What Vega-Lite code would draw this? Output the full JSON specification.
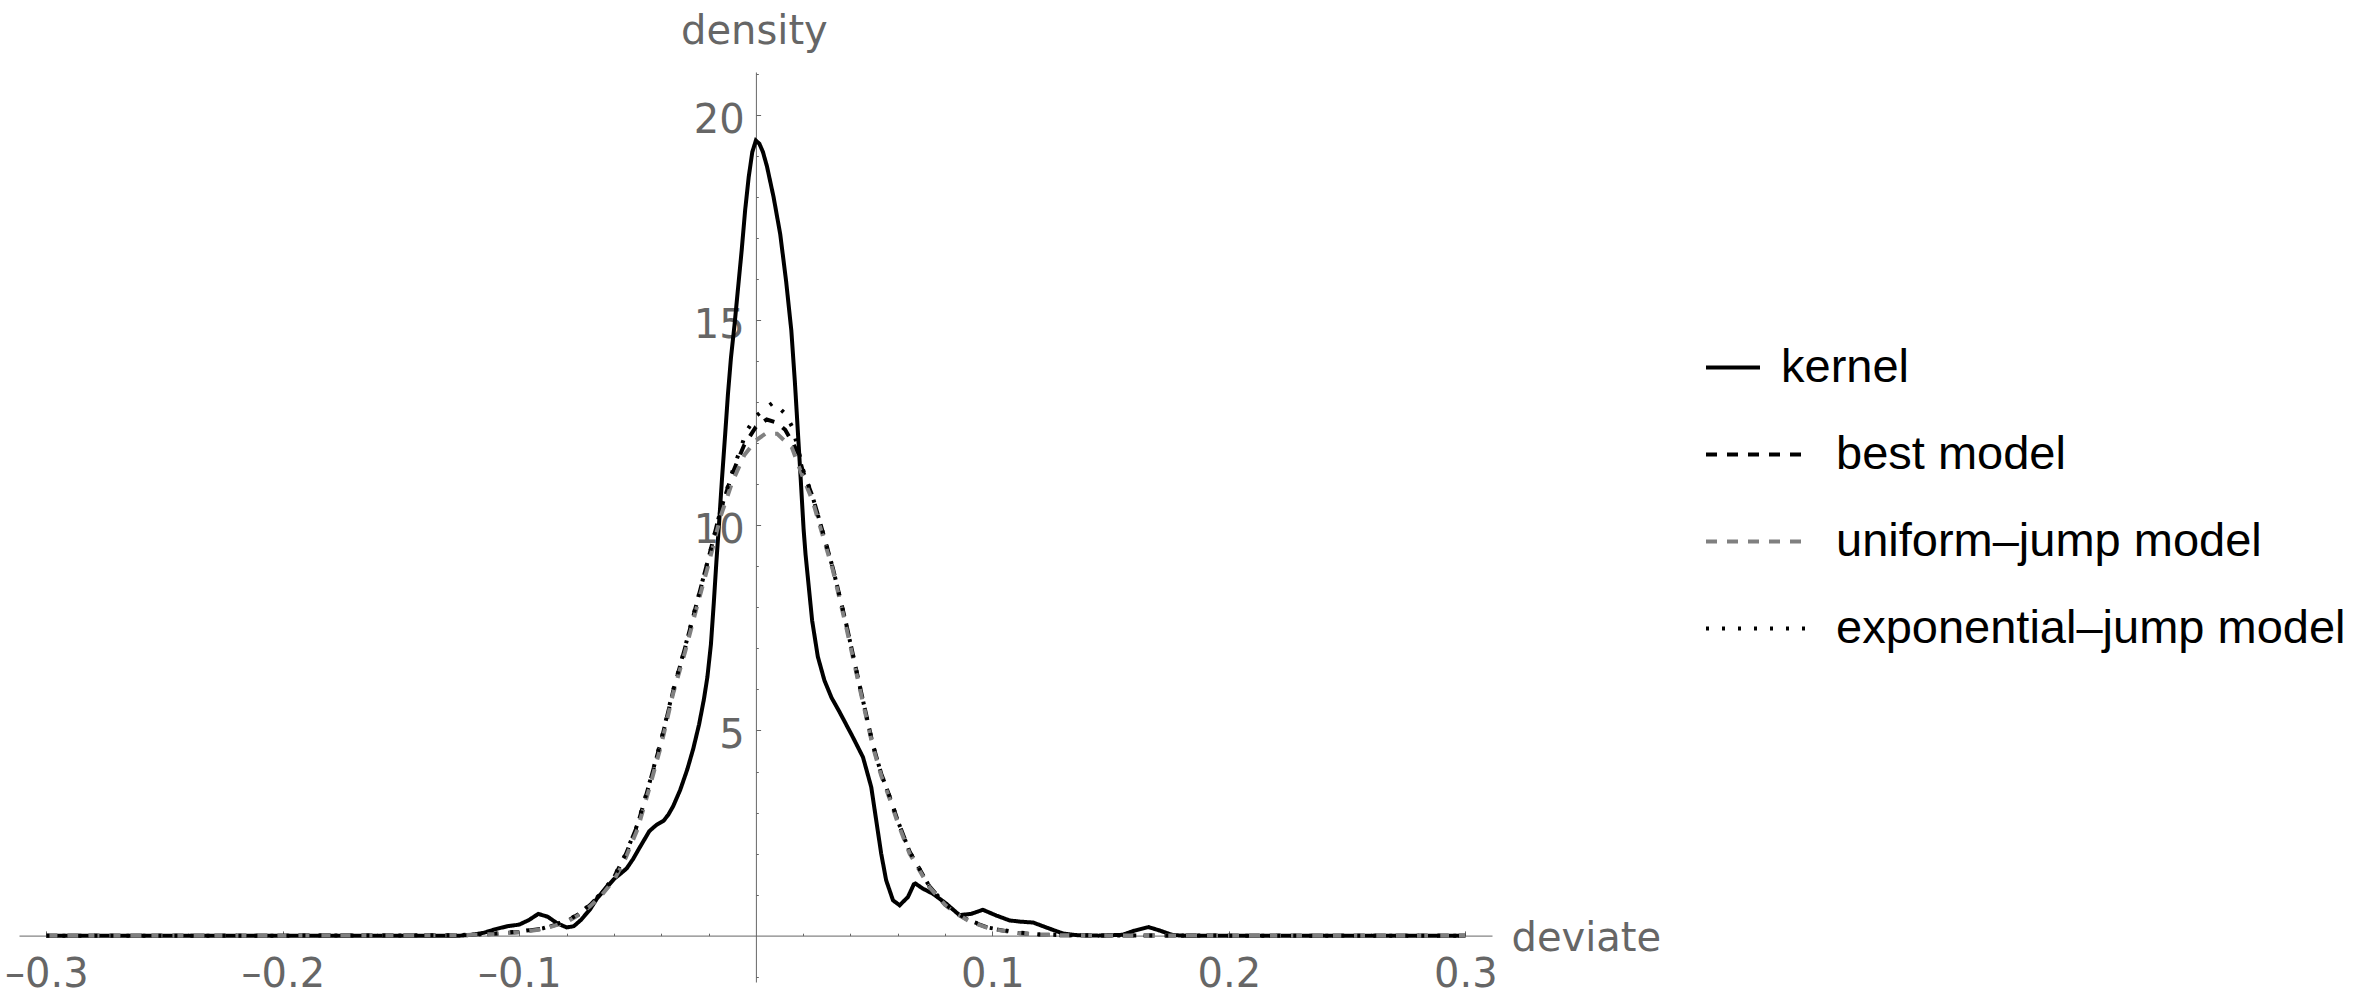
{
 "$schema": "https://vega.github.io/schema/vega-lite/v6.json",
 "width": 1473,
 "height": 910,
 "autosize": {"type": "none"},
 "padding": {"left": 19, "top": 72, "right": 865, "bottom": 15},
 "background": "white",
 "config": {"view": {"stroke": null}},
 "data": {"values": [
  {"deviate": -0.3, "density": 0, "series": "kernel"},
  {"deviate": -0.2, "density": 0, "series": "kernel"},
  {"deviate": -0.125, "density": 0, "series": "kernel"},
  {"deviate": -0.12, "density": 0.02, "series": "kernel"},
  {"deviate": -0.115, "density": 0.07, "series": "kernel"},
  {"deviate": -0.11, "density": 0.16, "series": "kernel"},
  {"deviate": -0.105, "density": 0.23, "series": "kernel"},
  {"deviate": -0.1, "density": 0.27, "series": "kernel"},
  {"deviate": -0.096, "density": 0.38, "series": "kernel"},
  {"deviate": -0.092, "density": 0.53, "series": "kernel"},
  {"deviate": -0.088, "density": 0.46, "series": "kernel"},
  {"deviate": -0.084, "density": 0.3, "series": "kernel"},
  {"deviate": -0.08, "density": 0.2, "series": "kernel"},
  {"deviate": -0.077, "density": 0.23, "series": "kernel"},
  {"deviate": -0.074, "density": 0.38, "series": "kernel"},
  {"deviate": -0.07, "density": 0.65, "series": "kernel"},
  {"deviate": -0.067, "density": 0.92, "series": "kernel"},
  {"deviate": -0.063, "density": 1.18, "series": "kernel"},
  {"deviate": -0.06, "density": 1.38, "series": "kernel"},
  {"deviate": -0.057, "density": 1.52, "series": "kernel"},
  {"deviate": -0.0546, "density": 1.64, "series": "kernel"},
  {"deviate": -0.052, "density": 1.86, "series": "kernel"},
  {"deviate": -0.049, "density": 2.16, "series": "kernel"},
  {"deviate": -0.045, "density": 2.55, "series": "kernel"},
  {"deviate": -0.042, "density": 2.7, "series": "kernel"},
  {"deviate": -0.039, "density": 2.8, "series": "kernel"},
  {"deviate": -0.037, "density": 2.95, "series": "kernel"},
  {"deviate": -0.035, "density": 3.15, "series": "kernel"},
  {"deviate": -0.032, "density": 3.55, "series": "kernel"},
  {"deviate": -0.029, "density": 4.05, "series": "kernel"},
  {"deviate": -0.0265, "density": 4.55, "series": "kernel"},
  {"deviate": -0.024, "density": 5.15, "series": "kernel"},
  {"deviate": -0.022, "density": 5.75, "series": "kernel"},
  {"deviate": -0.0205, "density": 6.3, "series": "kernel"},
  {"deviate": -0.019, "density": 7.1, "series": "kernel"},
  {"deviate": -0.0178, "density": 8.1, "series": "kernel"},
  {"deviate": -0.0167, "density": 9.1, "series": "kernel"},
  {"deviate": -0.0155, "density": 10.1, "series": "kernel"},
  {"deviate": -0.0143, "density": 11.15, "series": "kernel"},
  {"deviate": -0.013, "density": 12.2, "series": "kernel"},
  {"deviate": -0.0118, "density": 13.2, "series": "kernel"},
  {"deviate": -0.0105, "density": 14.1, "series": "kernel"},
  {"deviate": -0.009, "density": 14.9, "series": "kernel"},
  {"deviate": -0.0075, "density": 15.8, "series": "kernel"},
  {"deviate": -0.006, "density": 16.7, "series": "kernel"},
  {"deviate": -0.0045, "density": 17.7, "series": "kernel"},
  {"deviate": -0.003, "density": 18.5, "series": "kernel"},
  {"deviate": -0.0015, "density": 19.1, "series": "kernel"},
  {"deviate": 0, "density": 19.38, "series": "kernel"},
  {"deviate": 0.0015, "density": 19.3, "series": "kernel"},
  {"deviate": 0.003, "density": 19.1, "series": "kernel"},
  {"deviate": 0.0047, "density": 18.75, "series": "kernel"},
  {"deviate": 0.0075, "density": 18.0, "series": "kernel"},
  {"deviate": 0.0103, "density": 17.1, "series": "kernel"},
  {"deviate": 0.0128, "density": 15.95, "series": "kernel"},
  {"deviate": 0.015, "density": 14.75, "series": "kernel"},
  {"deviate": 0.0165, "density": 13.5, "series": "kernel"},
  {"deviate": 0.0178, "density": 12.25, "series": "kernel"},
  {"deviate": 0.019, "density": 11.1, "series": "kernel"},
  {"deviate": 0.0202, "density": 9.9, "series": "kernel"},
  {"deviate": 0.021, "density": 9.3, "series": "kernel"},
  {"deviate": 0.0238, "density": 7.68, "series": "kernel"},
  {"deviate": 0.0262, "density": 6.8, "series": "kernel"},
  {"deviate": 0.029, "density": 6.22, "series": "kernel"},
  {"deviate": 0.032, "density": 5.8, "series": "kernel"},
  {"deviate": 0.0354, "density": 5.45, "series": "kernel"},
  {"deviate": 0.041, "density": 4.84, "series": "kernel"},
  {"deviate": 0.0453, "density": 4.35, "series": "kernel"},
  {"deviate": 0.0488, "density": 3.62, "series": "kernel"},
  {"deviate": 0.0509, "density": 2.81, "series": "kernel"},
  {"deviate": 0.053, "density": 2.0, "series": "kernel"},
  {"deviate": 0.0551, "density": 1.35, "series": "kernel"},
  {"deviate": 0.058, "density": 0.86, "series": "kernel"},
  {"deviate": 0.0608, "density": 0.74, "series": "kernel"},
  {"deviate": 0.0643, "density": 0.94, "series": "kernel"},
  {"deviate": 0.0668, "density": 1.25, "series": "kernel"},
  {"deviate": 0.0675, "density": 1.27, "series": "kernel"},
  {"deviate": 0.0705, "density": 1.15, "series": "kernel"},
  {"deviate": 0.0749, "density": 1.02, "series": "kernel"},
  {"deviate": 0.0805, "density": 0.78, "series": "kernel"},
  {"deviate": 0.0861, "density": 0.5, "series": "kernel"},
  {"deviate": 0.091, "density": 0.53, "series": "kernel"},
  {"deviate": 0.096, "density": 0.63, "series": "kernel"},
  {"deviate": 0.1017, "density": 0.49, "series": "kernel"},
  {"deviate": 0.1073, "density": 0.37, "series": "kernel"},
  {"deviate": 0.112, "density": 0.34, "series": "kernel"},
  {"deviate": 0.1172, "density": 0.32, "series": "kernel"},
  {"deviate": 0.1242, "density": 0.17, "series": "kernel"},
  {"deviate": 0.13, "density": 0.05, "series": "kernel"},
  {"deviate": 0.136, "density": 0.01, "series": "kernel"},
  {"deviate": 0.145, "density": 0, "series": "kernel"},
  {"deviate": 0.155, "density": 0.02, "series": "kernel"},
  {"deviate": 0.16, "density": 0.12, "series": "kernel"},
  {"deviate": 0.166, "density": 0.21, "series": "kernel"},
  {"deviate": 0.171, "density": 0.12, "series": "kernel"},
  {"deviate": 0.176, "density": 0.02, "series": "kernel"},
  {"deviate": 0.18, "density": 0, "series": "kernel"},
  {"deviate": 0.3, "density": 0, "series": "kernel"},

  {"deviate": -0.3, "density": 0, "series": "best model"},
  {"deviate": -0.2, "density": 0, "series": "best model"},
  {"deviate": -0.15, "density": 0.003, "series": "best model"},
  {"deviate": -0.13, "density": 0.01, "series": "best model"},
  {"deviate": -0.12, "density": 0.02, "series": "best model"},
  {"deviate": -0.11, "density": 0.045, "series": "best model"},
  {"deviate": -0.1, "density": 0.09, "series": "best model"},
  {"deviate": -0.09, "density": 0.17, "series": "best model"},
  {"deviate": -0.08, "density": 0.35, "series": "best model"},
  {"deviate": -0.075, "density": 0.52, "series": "best model"},
  {"deviate": -0.07, "density": 0.75, "series": "best model"},
  {"deviate": -0.065, "density": 1.05, "series": "best model"},
  {"deviate": -0.06, "density": 1.42, "series": "best model"},
  {"deviate": -0.055, "density": 1.98, "series": "best model"},
  {"deviate": -0.05, "density": 2.7, "series": "best model"},
  {"deviate": -0.045, "density": 3.7, "series": "best model"},
  {"deviate": -0.04, "density": 4.75, "series": "best model"},
  {"deviate": -0.035, "density": 5.95, "series": "best model"},
  {"deviate": -0.03, "density": 7.0, "series": "best model"},
  {"deviate": -0.025, "density": 8.1, "series": "best model"},
  {"deviate": -0.02, "density": 9.2, "series": "best model"},
  {"deviate": -0.015, "density": 10.35, "series": "best model"},
  {"deviate": -0.01, "density": 11.25, "series": "best model"},
  {"deviate": -0.005, "density": 11.95, "series": "best model"},
  {"deviate": 0, "density": 12.4, "series": "best model"},
  {"deviate": 0.0046, "density": 12.58, "series": "best model"},
  {"deviate": 0.009, "density": 12.5, "series": "best model"},
  {"deviate": 0.0124, "density": 12.33, "series": "best model"},
  {"deviate": 0.0152, "density": 12.05, "series": "best model"},
  {"deviate": 0.018, "density": 11.75, "series": "best model"},
  {"deviate": 0.0197, "density": 11.35, "series": "best model"},
  {"deviate": 0.024, "density": 10.7, "series": "best model"},
  {"deviate": 0.027, "density": 10.1, "series": "best model"},
  {"deviate": 0.0326, "density": 8.95, "series": "best model"},
  {"deviate": 0.0382, "density": 7.6, "series": "best model"},
  {"deviate": 0.0438, "density": 6.12, "series": "best model"},
  {"deviate": 0.0495, "density": 4.65, "series": "best model"},
  {"deviate": 0.053, "density": 3.95, "series": "best model"},
  {"deviate": 0.0565, "density": 3.4, "series": "best model"},
  {"deviate": 0.06, "density": 2.8, "series": "best model"},
  {"deviate": 0.065, "density": 2.05, "series": "best model"},
  {"deviate": 0.0734, "density": 1.2, "series": "best model"},
  {"deviate": 0.08, "density": 0.76, "series": "best model"},
  {"deviate": 0.0847, "density": 0.55, "series": "best model"},
  {"deviate": 0.09, "density": 0.37, "series": "best model"},
  {"deviate": 0.0988, "density": 0.18, "series": "best model"},
  {"deviate": 0.11, "density": 0.07, "series": "best model"},
  {"deviate": 0.12, "density": 0.025, "series": "best model"},
  {"deviate": 0.13, "density": 0.01, "series": "best model"},
  {"deviate": 0.15, "density": 0.003, "series": "best model"},
  {"deviate": 0.2, "density": 0, "series": "best model"},
  {"deviate": 0.3, "density": 0, "series": "best model"},

  {"deviate": -0.3, "density": 0, "series": "uniform–jump model"},
  {"deviate": -0.2, "density": 0, "series": "uniform–jump model"},
  {"deviate": -0.15, "density": 0.003, "series": "uniform–jump model"},
  {"deviate": -0.13, "density": 0.01, "series": "uniform–jump model"},
  {"deviate": -0.12, "density": 0.02, "series": "uniform–jump model"},
  {"deviate": -0.11, "density": 0.04, "series": "uniform–jump model"},
  {"deviate": -0.1, "density": 0.08, "series": "uniform–jump model"},
  {"deviate": -0.09, "density": 0.16, "series": "uniform–jump model"},
  {"deviate": -0.08, "density": 0.33, "series": "uniform–jump model"},
  {"deviate": -0.075, "density": 0.5, "series": "uniform–jump model"},
  {"deviate": -0.07, "density": 0.72, "series": "uniform–jump model"},
  {"deviate": -0.065, "density": 1.0, "series": "uniform–jump model"},
  {"deviate": -0.06, "density": 1.35, "series": "uniform–jump model"},
  {"deviate": -0.055, "density": 1.9, "series": "uniform–jump model"},
  {"deviate": -0.05, "density": 2.6, "series": "uniform–jump model"},
  {"deviate": -0.045, "density": 3.6, "series": "uniform–jump model"},
  {"deviate": -0.04, "density": 4.65, "series": "uniform–jump model"},
  {"deviate": -0.035, "density": 5.9, "series": "uniform–jump model"},
  {"deviate": -0.03, "density": 6.9, "series": "uniform–jump model"},
  {"deviate": -0.025, "density": 8.0, "series": "uniform–jump model"},
  {"deviate": -0.02, "density": 9.05, "series": "uniform–jump model"},
  {"deviate": -0.015, "density": 10.2, "series": "uniform–jump model"},
  {"deviate": -0.01, "density": 11.05, "series": "uniform–jump model"},
  {"deviate": -0.005, "density": 11.7, "series": "uniform–jump model"},
  {"deviate": 0, "density": 12.07, "series": "uniform–jump model"},
  {"deviate": 0.004, "density": 12.23, "series": "uniform–jump model"},
  {"deviate": 0.009, "density": 12.23, "series": "uniform–jump model"},
  {"deviate": 0.0152, "density": 11.9, "series": "uniform–jump model"},
  {"deviate": 0.0197, "density": 11.2, "series": "uniform–jump model"},
  {"deviate": 0.024, "density": 10.6, "series": "uniform–jump model"},
  {"deviate": 0.027, "density": 10.0, "series": "uniform–jump model"},
  {"deviate": 0.0326, "density": 8.9, "series": "uniform–jump model"},
  {"deviate": 0.0382, "density": 7.52, "series": "uniform–jump model"},
  {"deviate": 0.0438, "density": 6.06, "series": "uniform–jump model"},
  {"deviate": 0.0495, "density": 4.6, "series": "uniform–jump model"},
  {"deviate": 0.053, "density": 3.9, "series": "uniform–jump model"},
  {"deviate": 0.0565, "density": 3.35, "series": "uniform–jump model"},
  {"deviate": 0.06, "density": 2.75, "series": "uniform–jump model"},
  {"deviate": 0.065, "density": 2.0, "series": "uniform–jump model"},
  {"deviate": 0.0734, "density": 1.18, "series": "uniform–jump model"},
  {"deviate": 0.08, "density": 0.75, "series": "uniform–jump model"},
  {"deviate": 0.0847, "density": 0.54, "series": "uniform–jump model"},
  {"deviate": 0.09, "density": 0.36, "series": "uniform–jump model"},
  {"deviate": 0.0988, "density": 0.17, "series": "uniform–jump model"},
  {"deviate": 0.11, "density": 0.07, "series": "uniform–jump model"},
  {"deviate": 0.12, "density": 0.02, "series": "uniform–jump model"},
  {"deviate": 0.13, "density": 0.01, "series": "uniform–jump model"},
  {"deviate": 0.15, "density": 0.003, "series": "uniform–jump model"},
  {"deviate": 0.2, "density": 0, "series": "uniform–jump model"},
  {"deviate": 0.3, "density": 0, "series": "uniform–jump model"},

  {"deviate": -0.3, "density": 0, "series": "exponential–jump model"},
  {"deviate": -0.2, "density": 0, "series": "exponential–jump model"},
  {"deviate": -0.15, "density": 0.005, "series": "exponential–jump model"},
  {"deviate": -0.13, "density": 0.012, "series": "exponential–jump model"},
  {"deviate": -0.12, "density": 0.022, "series": "exponential–jump model"},
  {"deviate": -0.11, "density": 0.05, "series": "exponential–jump model"},
  {"deviate": -0.1, "density": 0.1, "series": "exponential–jump model"},
  {"deviate": -0.09, "density": 0.18, "series": "exponential–jump model"},
  {"deviate": -0.08, "density": 0.36, "series": "exponential–jump model"},
  {"deviate": -0.075, "density": 0.53, "series": "exponential–jump model"},
  {"deviate": -0.07, "density": 0.76, "series": "exponential–jump model"},
  {"deviate": -0.065, "density": 1.06, "series": "exponential–jump model"},
  {"deviate": -0.06, "density": 1.43, "series": "exponential–jump model"},
  {"deviate": -0.055, "density": 2.0, "series": "exponential–jump model"},
  {"deviate": -0.05, "density": 2.72, "series": "exponential–jump model"},
  {"deviate": -0.045, "density": 3.72, "series": "exponential–jump model"},
  {"deviate": -0.04, "density": 4.78, "series": "exponential–jump model"},
  {"deviate": -0.035, "density": 5.98, "series": "exponential–jump model"},
  {"deviate": -0.03, "density": 7.02, "series": "exponential–jump model"},
  {"deviate": -0.025, "density": 8.12, "series": "exponential–jump model"},
  {"deviate": -0.02, "density": 9.2, "series": "exponential–jump model"},
  {"deviate": -0.015, "density": 10.35, "series": "exponential–jump model"},
  {"deviate": -0.01, "density": 11.3, "series": "exponential–jump model"},
  {"deviate": -0.0038, "density": 12.31, "series": "exponential–jump model"},
  {"deviate": 0.0004, "density": 12.68, "series": "exponential–jump model"},
  {"deviate": 0.0074, "density": 13.0, "series": "exponential–jump model"},
  {"deviate": 0.0124, "density": 12.72, "series": "exponential–jump model"},
  {"deviate": 0.0152, "density": 12.42, "series": "exponential–jump model"},
  {"deviate": 0.018, "density": 11.85, "series": "exponential–jump model"},
  {"deviate": 0.0197, "density": 11.4, "series": "exponential–jump model"},
  {"deviate": 0.024, "density": 10.7, "series": "exponential–jump model"},
  {"deviate": 0.027, "density": 10.1, "series": "exponential–jump model"},
  {"deviate": 0.0326, "density": 8.95, "series": "exponential–jump model"},
  {"deviate": 0.0382, "density": 7.6, "series": "exponential–jump model"},
  {"deviate": 0.0438, "density": 6.12, "series": "exponential–jump model"},
  {"deviate": 0.0495, "density": 4.65, "series": "exponential–jump model"},
  {"deviate": 0.053, "density": 3.95, "series": "exponential–jump model"},
  {"deviate": 0.0565, "density": 3.4, "series": "exponential–jump model"},
  {"deviate": 0.06, "density": 2.8, "series": "exponential–jump model"},
  {"deviate": 0.065, "density": 2.05, "series": "exponential–jump model"},
  {"deviate": 0.0734, "density": 1.2, "series": "exponential–jump model"},
  {"deviate": 0.08, "density": 0.77, "series": "exponential–jump model"},
  {"deviate": 0.0847, "density": 0.56, "series": "exponential–jump model"},
  {"deviate": 0.09, "density": 0.38, "series": "exponential–jump model"},
  {"deviate": 0.0988, "density": 0.19, "series": "exponential–jump model"},
  {"deviate": 0.11, "density": 0.08, "series": "exponential–jump model"},
  {"deviate": 0.12, "density": 0.03, "series": "exponential–jump model"},
  {"deviate": 0.13, "density": 0.012, "series": "exponential–jump model"},
  {"deviate": 0.15, "density": 0.005, "series": "exponential–jump model"},
  {"deviate": 0.2, "density": 0, "series": "exponential–jump model"},
  {"deviate": 0.3, "density": 0, "series": "exponential–jump model"}
 ]},
 "layer": [
  {
   "mark": {"type": "point", "opacity": 0},
   "encoding": {
    "x": {"field": "deviate", "type": "quantitative",
      "scale": {"domain": [-0.3116, 0.3113], "nice": false, "zero": false},
      "axis": {"orient": "bottom", "offset": -46.4, "values": [-0.28,-0.26,-0.24,-0.22,-0.18,-0.16,-0.14,-0.12,-0.08,-0.06,-0.04,-0.02,0.02,0.04,0.06,0.08,0.12,0.14,0.16,0.18,0.22,0.24,0.26,0.28],
        "tickSize": -2.4, "tickColor": "#666666", "tickWidth": 1, "domain": false, "labels": false, "grid": false, "title": null}},
    "y": {"field": "density", "type": "quantitative",
      "scale": {"domain": [-1.13, 21.05], "nice": false, "zero": false},
      "axis": {"orient": "left", "offset": -736.9, "values": [-1,1,2,3,4,6,7,8,9,11,12,13,14,16,17,18,19,21],
        "tickSize": -2.4, "tickColor": "#666666", "tickWidth": 1, "domain": false, "labels": false, "grid": false, "title": null}}
   }
  },
  {
   "mark": {"type": "line", "strokeWidth": 4},
   "encoding": {
    "x": {"field": "deviate", "type": "quantitative",
      "scale": {"domain": [-0.3116, 0.3113], "nice": false, "zero": false},
      "axis": {"orient": "bottom", "offset": -46.4, "values": [-0.3,-0.2,-0.1,0.1,0.2,0.3],
        "labelExpr": "(datum.value < 0 ? '–' : '') + format(abs(datum.value), '.1f')",
        "tickSize": -4.7, "tickColor": "#666666", "tickWidth": 1, "domainColor": "#666666", "domainWidth": 1,
        "labelFont": "DejaVu Sans", "labelFontSize": 40, "labelColor": "#666666", "labelPadding": 23.8,
        "labelFlush": false, "labelOverlap": false, "grid": false,
        "title": "deviate", "titleFont": "DejaVu Sans", "titleFontSize": 40, "titleFontWeight": "normal", "titleColor": "#666666",
        "titleX": 1492, "titleY": 15, "titleAlign": "left", "titleBaseline": "alphabetic"}},
    "y": {"field": "density", "type": "quantitative",
      "scale": {"domain": [-1.13, 21.05], "nice": false, "zero": false},
      "axis": {"orient": "left", "offset": -736.9, "values": [5,10,15,20],
        "tickSize": -4.7, "tickColor": "#666666", "tickWidth": 1, "domainColor": "#666666", "domainWidth": 1,
        "labelFont": "DejaVu Sans", "labelFontSize": 40, "labelColor": "#666666", "labelPadding": 16.4, "labelOffset": 5,
        "labelFlush": false, "labelOverlap": false, "grid": false,
        "title": "density", "titleFont": "DejaVu Sans", "titleFontSize": 40, "titleFontWeight": "normal", "titleColor": "#666666",
        "titleAngle": 0, "titleX": -2, "titleY": -28.7, "titleAlign": "center", "titleBaseline": "alphabetic"}},
    "color": {"field": "series", "type": "nominal",
      "scale": {"domain": ["kernel", "best model", "uniform–jump model", "exponential–jump model"], "range": ["#000000", "#000000", "#808080", "#000000"]},
      "legend": {"orient": "none", "legendX": 1685, "legendY": 242, "title": null, "padding": 0,
        "symbolType": "stroke", "symbolSize": 10609, "symbolStrokeWidth": 4,
        "labelFont": "Liberation Sans", "labelFontSize": 47, "labelColor": "#000000", "labelLimit": 0, "labelOffset": 25,
        "rowPadding": 10,
        "encode": {
          "symbols": {"update": {"size": {"signal": "datum.label === 'kernel' ? 2916 : 10609"}, "x": {"signal": "datum.label === 'kernel' ? 29 : 53.5"}}},
          "labels": {"update": {"dx": {"signal": "datum.label === 'kernel' ? -55 : 0"}}}
        }}},
    "strokeDash": {"field": "series", "type": "nominal",
      "scale": {"domain": ["kernel", "best model", "uniform–jump model", "exponential–jump model"], "range": [[1, 0], [11, 10], [11, 10], [3, 13]]},
      "legend": {"orient": "none", "legendX": 1685, "legendY": 242, "title": null, "padding": 0,
        "symbolType": "stroke", "symbolSize": 10609, "symbolStrokeWidth": 4,
        "labelFont": "Liberation Sans", "labelFontSize": 47, "labelColor": "#000000", "labelLimit": 0, "labelOffset": 25,
        "rowPadding": 10,
        "encode": {
          "symbols": {"update": {"size": {"signal": "datum.label === 'kernel' ? 2916 : 10609"}, "x": {"signal": "datum.label === 'kernel' ? 29 : 53.5"}}},
          "labels": {"update": {"dx": {"signal": "datum.label === 'kernel' ? -55 : 0"}}}
        }}}
   }
  }
 ],
 "resolve": {"axis": {"x": "independent", "y": "independent"}}
}
